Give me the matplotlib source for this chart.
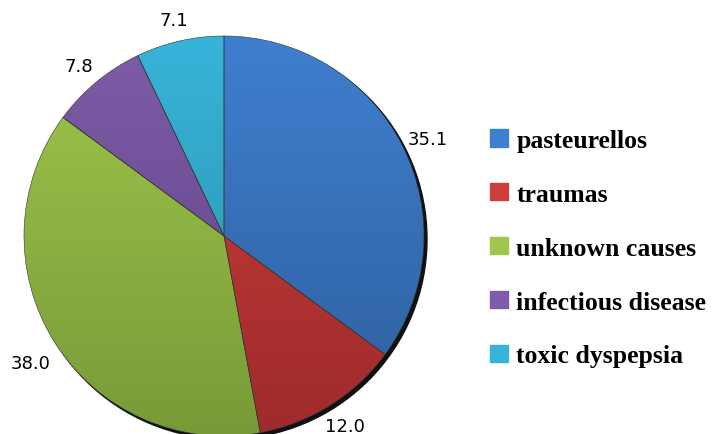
import numpy as np
import matplotlib
matplotlib.use('Agg')
import matplotlib.pyplot as plt
import matplotlib.patches as mpatches
from matplotlib.colors import LinearSegmentedColormap

# data
causes = ['pasteurellos', 'traumas', 'unknown causes', 'infectious disease', 'toxic dyspepsia']
shares = [35.1, 12.0, 38.0, 7.8, 7.1]

# top / bottom shade of each slice (Excel-like vertical gradient)
TOP_COLORS = ['#3F7FCF', '#CC3E3B', '#A0C64B', '#7E5CA8', '#37B4DA']
BOT_COLORS = ['#2E5E9C', '#9E2B2B', '#789A38', '#5F4284', '#2A8DA6']

W, H = 715, 435
fig = plt.figure(figsize=(W / 100, H / 100), dpi=100)
fig.patch.set_facecolor('white')
ax = fig.add_axes([0, 0, 1, 1])
ax.axis('off')

cx, cy, R = 224, 198, 200

# drop shadow
ax.add_patch(mpatches.Circle((cx + 3, cy - 3), R, color='#111111', zorder=0))

wedges, _, pct_txt = ax.pie(
    shares, startangle=90, counterclock=False, center=(cx, cy), radius=R,
    colors=TOP_COLORS, autopct=lambda p: f'{p:.1f}', pctdistance=1.14,
    wedgeprops=dict(linewidth=0.4, edgecolor='#333333'),
    textprops=dict(fontsize=13, family='DejaVu Sans', color='black'))
ax.set_xlim(0, W)
ax.set_ylim(0, H)
ax.set_aspect('equal')

# vertical gradient fill clipped to every wedge
grad = np.linspace(1, 0, 256).reshape(-1, 1)
for w, c_top, c_bot in zip(wedges, TOP_COLORS, BOT_COLORS):
    cmap = LinearSegmentedColormap.from_list('g', [c_bot, c_top])
    im = ax.imshow(grad, cmap=cmap, aspect='auto', vmin=0, vmax=1,
                   extent=(cx - R, cx + R, cy - R, cy + R), origin='upper',
                   zorder=1.5)
    im.set_clip_path(w)
    w.set_facecolor('none')
    w.set_zorder(2)

# value labels sit a bit lower in the original; the bottom one stays inside
for i, t in enumerate(pct_txt):
    x, y = t.get_position()
    t.set_position((x, y + 3 if i == 1 else y - 6))

handles = [mpatches.Patch(facecolor=c, edgecolor=c) for c in TOP_COLORS]
leg = ax.legend(handles, causes, loc='upper left', bbox_to_anchor=(490 / W, 1 - 130 / H),
                bbox_transform=fig.transFigure, frameon=False,
                prop=dict(family='Liberation Serif', weight='bold', size=18.5),
                handlelength=0.7, handleheight=0.65, handletextpad=0.33,
                labelspacing=1.2, borderaxespad=0, borderpad=0)

fig.savefig('out.png', dpi=100, facecolor='white')
